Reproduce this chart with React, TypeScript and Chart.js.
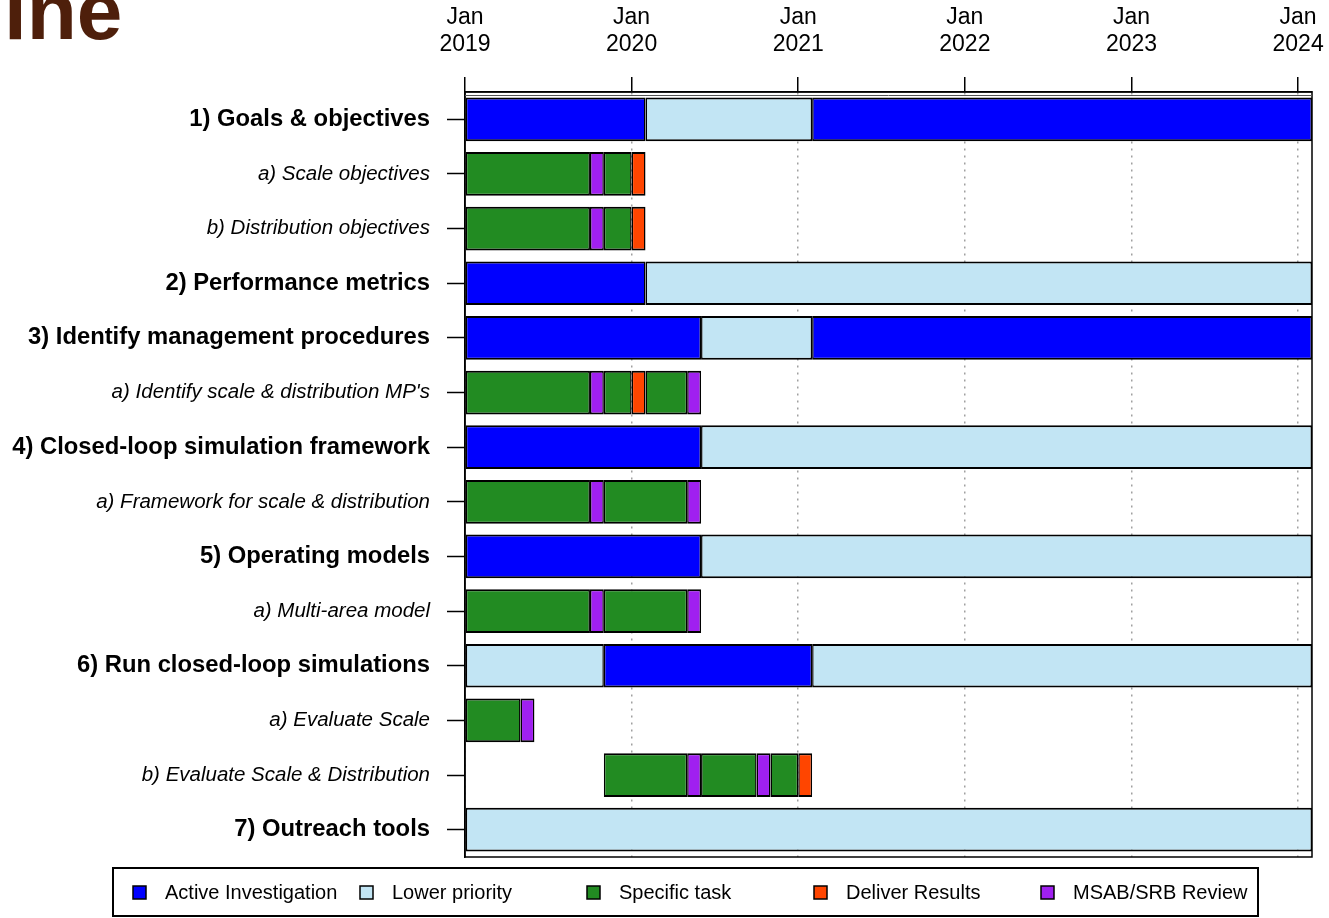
import React, { useEffect, useRef } from 'react';
import { Chart, registerables } from 'chart.js';

Chart.register(...registerables);

// ---------- DATA (x values = months since Jan 2019) ----------
type Kind = 'active' | 'lower' | 'task' | 'deliver' | 'review';
type Segment = [number, number, Kind];

const taskLabels: string[] = [
  '1) Goals & objectives',
  'a) Scale objectives',
  'b) Distribution objectives',
  '2) Performance metrics',
  '3) Identify management procedures',
  "a) Identify scale & distribution MP's",
  '4) Closed-loop simulation framework',
  'a) Framework for scale & distribution',
  '5) Operating models',
  'a) Multi-area model',
  '6) Run closed-loop simulations',
  'a) Evaluate Scale',
  'b) Evaluate Scale & Distribution',
  '7) Outreach tools',
];

const mainTaskFlags: boolean[] = [
  true, false, false, true, true, false, true, false, true, false, true, false, false, true,
];

const goalsSegments: Segment[] = [[0, 13, 'active'], [13, 25, 'lower'], [25, 61, 'active']];
const scaleObjectivesSegments: Segment[] = [[0, 9, 'task'], [9, 10, 'review'], [10, 12, 'task'], [12, 13, 'deliver']];
const distributionObjectivesSegments: Segment[] = [[0, 9, 'task'], [9, 10, 'review'], [10, 12, 'task'], [12, 13, 'deliver']];
const performanceMetricsSegments: Segment[] = [[0, 13, 'active'], [13, 61, 'lower']];
const managementProceduresSegments: Segment[] = [[0, 17, 'active'], [17, 25, 'lower'], [25, 61, 'active']];
const identifyMPsSegments: Segment[] = [[0, 9, 'task'], [9, 10, 'review'], [10, 12, 'task'], [12, 13, 'deliver'], [13, 16, 'task'], [16, 17, 'review']];
const closedLoopFrameworkSegments: Segment[] = [[0, 17, 'active'], [17, 61, 'lower']];
const frameworkScaleDistSegments: Segment[] = [[0, 9, 'task'], [9, 10, 'review'], [10, 16, 'task'], [16, 17, 'review']];
const operatingModelsSegments: Segment[] = [[0, 17, 'active'], [17, 61, 'lower']];
const multiAreaModelSegments: Segment[] = [[0, 9, 'task'], [9, 10, 'review'], [10, 16, 'task'], [16, 17, 'review']];
const runSimulationsSegments: Segment[] = [[0, 10, 'lower'], [10, 25, 'active'], [25, 61, 'lower']];
const evaluateScaleSegments: Segment[] = [[0, 4, 'task'], [4, 5, 'review']];
const evaluateScaleDistSegments: Segment[] = [[10, 16, 'task'], [16, 17, 'review'], [17, 21, 'task'], [21, 22, 'review'], [22, 24, 'task'], [24, 25, 'deliver']];
const outreachSegments: Segment[] = [[0, 61, 'lower']];

const rowSegments: Segment[][] = [
  goalsSegments,
  scaleObjectivesSegments,
  distributionObjectivesSegments,
  performanceMetricsSegments,
  managementProceduresSegments,
  identifyMPsSegments,
  closedLoopFrameworkSegments,
  frameworkScaleDistSegments,
  operatingModelsSegments,
  multiAreaModelSegments,
  runSimulationsSegments,
  evaluateScaleSegments,
  evaluateScaleDistSegments,
  outreachSegments,
];

const yearTickMonths: number[] = [0, 12, 24, 36, 48, 60];
const yearTickLabels: string[][] = [
  ['Jan', '2019'],
  ['Jan', '2020'],
  ['Jan', '2021'],
  ['Jan', '2022'],
  ['Jan', '2023'],
  ['Jan', '2024'],
];
const axisStartMonth = 0;
const axisEndMonth = 61;

const legendKinds: Kind[] = ['active', 'lower', 'task', 'deliver', 'review'];
const legendLabels: string[] = ['Active Investigation', 'Lower priority', 'Specific task', 'Deliver Results', 'MSAB/SRB Review'];

// ---------- STYLES ----------
const kindColors: Record<Kind, string> = {
  active: '#0000FF',
  lower: '#C2E5F4',
  task: '#228B22',
  deliver: '#FF4500',
  review: '#A020F0',
};

const FONT = '"Liberation Sans", Arial, Helvetica, sans-serif';

const frameAndLegendPlugin = {
  id: 'frameAndLegend',
  afterDraw(chart: any) {
    const { ctx, chartArea } = chart;
    const { left, top, right, bottom } = chartArea;
    ctx.save();
    // plot frame
    ctx.strokeStyle = '#000';
    ctx.lineWidth = 1.5;
    ctx.strokeRect(left, top, right - left, bottom - top);
    ctx.strokeStyle = '#555';
    ctx.lineWidth = 1;
    ctx.beginPath();
    ctx.moveTo(left, top + 3.5);
    ctx.lineTo(right, top + 3.5);
    ctx.stroke();

    // legend box
    const boxX = 113;
    const boxY = 868;
    const boxW = 1145;
    const boxH = 48;
    ctx.lineWidth = 2;
    ctx.strokeStyle = '#000';
    ctx.strokeRect(boxX, boxY, boxW, boxH);
    const cy = boxY + boxH / 2 + 1;
    ctx.font = `20px ${FONT}`;
    ctx.textBaseline = 'middle';
    ctx.textAlign = 'left';
    legendKinds.forEach((kind, i) => {
      const mx = 133 + i * 227;
      ctx.fillStyle = kindColors[kind];
      ctx.fillRect(mx, cy - 7, 13, 13);
      ctx.lineWidth = 1.5;
      ctx.strokeStyle = '#000';
      ctx.strokeRect(mx, cy - 7, 13, 13);
      ctx.fillStyle = '#000';
      ctx.fillText(legendLabels[i], mx + 32, cy);
    });
    ctx.restore();
  },
};

export default function App() {
  const canvasRef = useRef<HTMLCanvasElement | null>(null);

  useEffect(() => {
    const canvas = canvasRef.current;
    if (!canvas) return;
    const maxSegs = Math.max(...rowSegments.map((r) => r.length));
    const datasets = Array.from({ length: maxSegs }, (_, k) => ({
      label: `segment ${k + 1}`,
      data: rowSegments.map((r) => (r[k] ? [r[k][0], r[k][1]] : null)),
      backgroundColor: rowSegments.map((r) => (r[k] ? kindColors[r[k][2]] : 'rgba(0,0,0,0)')),
      borderColor: '#000',
      borderWidth: { left: 1.5, right: 1.5, top: 2, bottom: 2 },
      borderSkipped: false,
      grouped: false,
      barPercentage: 0.8,
      categoryPercentage: 1,
    }));

    const chart = new Chart(canvas, {
      type: 'bar',
      data: { labels: taskLabels, datasets: datasets as any },
      plugins: [frameAndLegendPlugin],
      options: {
        animation: false,
        responsive: false,
        indexAxis: 'y',
        layout: { padding: { left: 0, right: 17, top: 0, bottom: 61 } },
        plugins: {
          legend: { display: false },
          tooltip: { enabled: false },
          title: { display: false },
        },
        scales: {
          x: {
            type: 'linear',
            position: 'top',
            min: axisStartMonth,
            max: axisEndMonth,
            afterBuildTicks: (scale: any) => {
              scale.ticks = yearTickMonths.map((v) => ({ value: v }));
            },
            afterFit: (scale: any) => {
              scale.height = 92;
              scale.paddingLeft = 0;
              scale.paddingRight = 0;
            },
            ticks: {
              autoSkip: false,
              maxRotation: 0,
              padding: 19,
              color: '#000',
              font: { family: FONT, size: 23, lineHeight: 1.18 },
              callback: (_v: any, index: number) => yearTickLabels[index],
            },
            grid: {
              color: '#a0a0a0',
              lineWidth: 1.5,
              drawTicks: true,
              tickLength: 15,
              tickColor: '#000',
              tickWidth: 1.5,
              tickBorderDash: [],
            },
            border: { display: true, color: '#000', width: 1.5, dash: [2, 5] },
          },
          y: {
            type: 'category',
            position: 'left',
            offset: true,
            afterFit: (scale: any) => {
              scale.width = 465;
            },
            ticks: {
              padding: 17,
              color: '#000',
              autoSkip: false,
              font: (ctx: any) =>
                mainTaskFlags[ctx.index]
                  ? { family: FONT, size: 23.8, weight: 'bold' }
                  : { family: FONT, size: 20.5, style: 'italic' },
            },
            grid: {
              offset: false,
              drawOnChartArea: false,
              drawTicks: true,
              tickLength: 18,
              tickColor: '#000',
              tickWidth: 1.5,
              color: '#000',
            },
            border: { display: true, color: '#000', width: 1.5 },
          },
        },
      } as any,
    });
    return () => chart.destroy();
  }, []);

  return (
    <div
      style={{
        position: 'absolute',
        left: 0,
        top: 0,
        width: 1329,
        height: 918,
        background: '#fff',
        overflow: 'hidden',
      }}
    >
      <canvas ref={canvasRef} width={1329} height={918} style={{ position: 'absolute', left: 0, top: 0 }} />
      <div
        style={{
          position: 'absolute',
          left: 4,
          top: -30,
          fontFamily: FONT,
          fontWeight: 'bold',
          fontSize: 82,
          lineHeight: '82px',
          color: '#4E1F0B',
          whiteSpace: 'nowrap',
        }}
      >
        ine
      </div>
    </div>
  );
}
